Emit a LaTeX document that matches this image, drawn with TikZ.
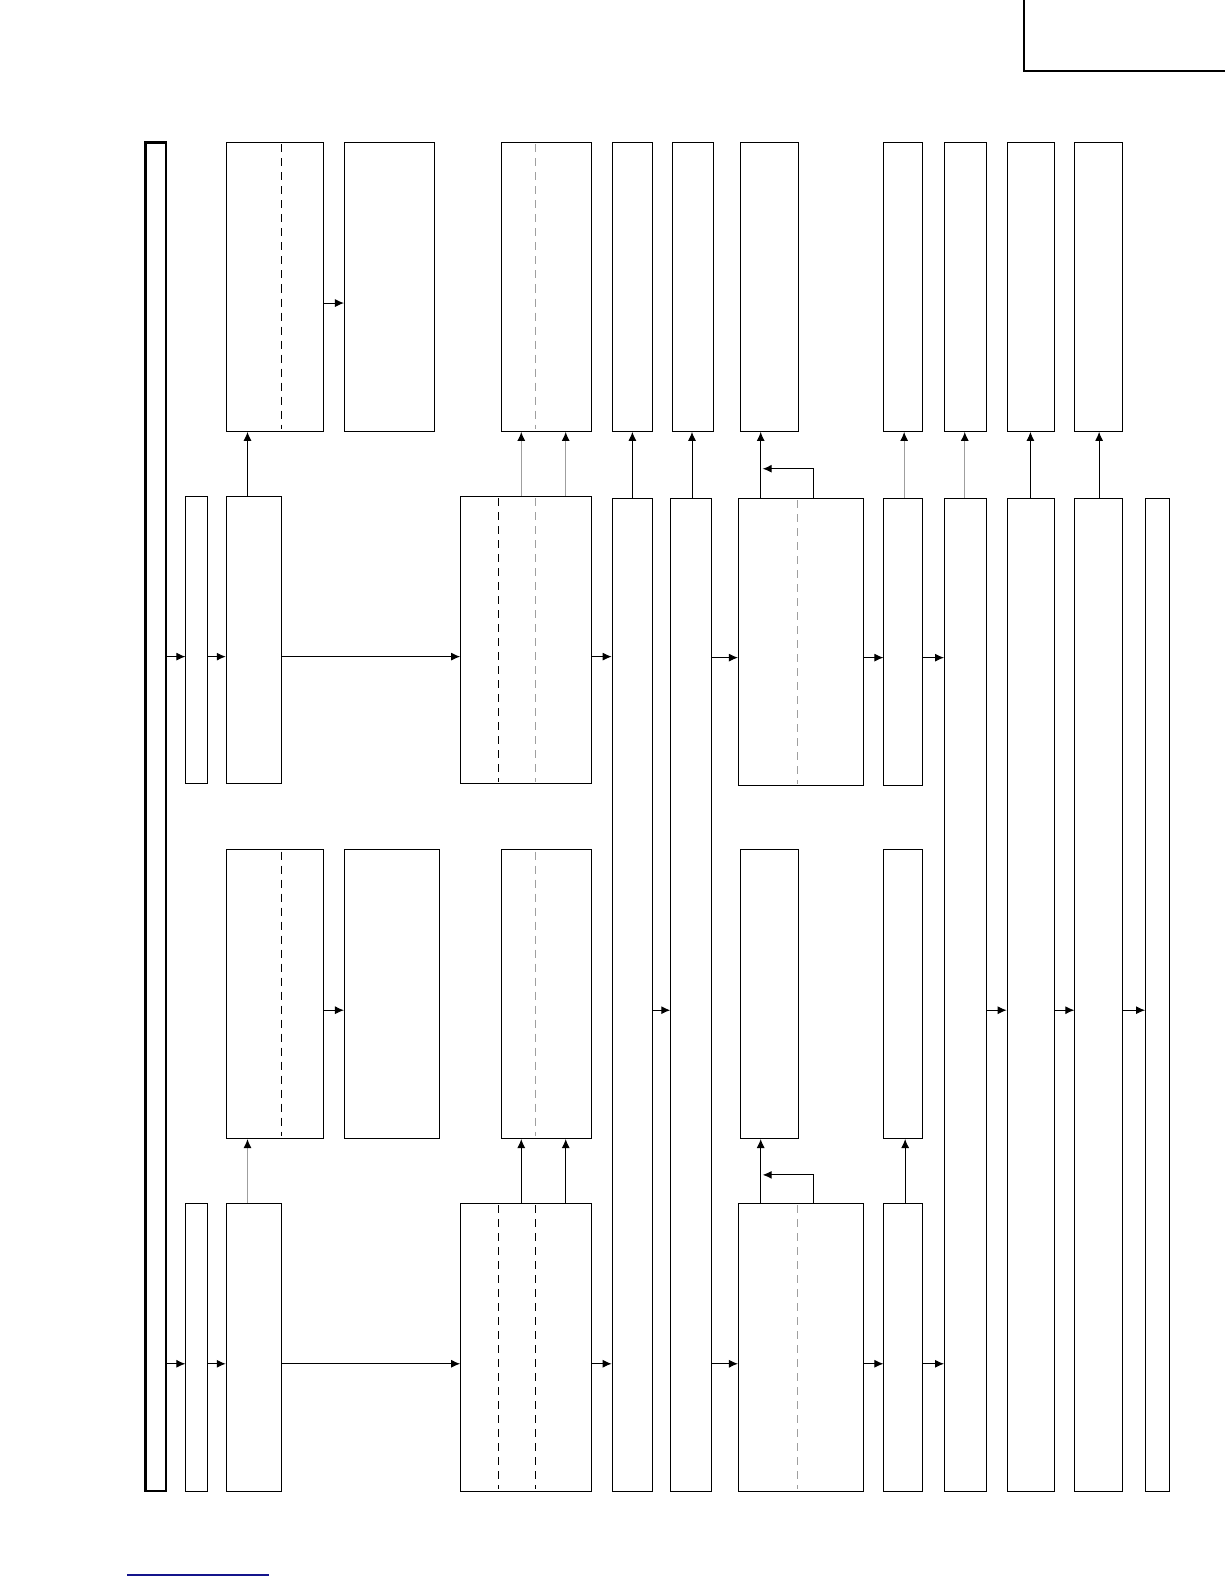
\documentclass[tikz,border=0pt]{standalone}
\usetikzlibrary{fit,arrows.meta}
\definecolor{navyline}{RGB}{20,20,140}
\begin{document}
\begin{tikzpicture}[x=0.50495pt,y=-0.50495pt,
  box/.style={draw=black,line width=0.5pt,inner sep=0pt,rectangle},
  thickbox/.style={draw=black,line width=1.1pt,inner sep=0pt,rectangle},
  arr/.style={-{Latex[length=4.5pt,width=4pt]},line width=0.5pt},
  garr/.style={-{Latex[length=4.5pt,width=4pt,color=black]},line width=0.6pt,draw=gray!75},
  dashln/.style={line width=0.45pt,dash pattern=on 4pt off 3pt},
  gdashln/.style={dashln,draw=gray!75}]
\useasboundingbox (0,0) rectangle (1212,1568);
% corner frame and blue rule
\draw[line width=1.1pt] (1014,-5) -- (1014,70) -- (1220,70);
\draw[navyline,line width=0.6pt] (126,1559) -- (266,1559);
% left bus
\node[thickbox,fit={(144,141) (164,1476)}] (bus) {};
% upper row
\node[box,fit={(184,491) (205,776)}] (S1) {};
\node[box,fit={(224,491) (279,776)}] (C1) {};
\node[box,fit={(224,141) (320,427)}] (A1) {};
\node[box,fit={(341,141) (430,427)}] (B1) {};
\node[box,fit={(456,491) (586,776)}] (D1) {};
\node[box,fit={(496,141) (586,427)}] (E1) {};
\node[box,fit={(606,141) (646,427)}] (FT) {};
\node[box,fit={(666,141) (706,427)}] (GT) {};
\node[box,fit={(731,493) (855,778)}] (H1) {};
\node[box,fit={(733,141) (790,427)}] (HT1) {};
\node[box,fit={(875,493) (913,778)}] (I1) {};
\node[box,fit={(875,141) (913,427)}] (IT1) {};
\node[box,fit={(935,141) (977,427)}] (JT) {};
\node[box,fit={(997,141) (1044,427)}] (KT) {};
\node[box,fit={(1064,141) (1111,427)}] (LT) {};
% lower row
\node[box,fit={(184,1191) (205,1476)}] (S2) {};
\node[box,fit={(224,1191) (279,1476)}] (C2) {};
\node[box,fit={(224,841) (320,1127)}] (A2) {};
\node[box,fit={(341,841) (435,1127)}] (B2) {};
\node[box,fit={(456,1191) (586,1476)}] (D2) {};
\node[box,fit={(496,841) (586,1127)}] (E2) {};
\node[box,fit={(731,1191) (855,1476)}] (H2) {};
\node[box,fit={(733,841) (790,1127)}] (HT2) {};
\node[box,fit={(875,1191) (913,1476)}] (I2) {};
\node[box,fit={(875,841) (913,1127)}] (IT2) {};
% tall columns
\node[box,fit={(606,493) (646,1476)}] (F) {};
\node[box,fit={(664,493) (704,1476)}] (G) {};
\node[box,fit={(935,493) (977,1476)}] (J) {};
\node[box,fit={(997,493) (1044,1476)}] (K) {};
\node[box,fit={(1064,493) (1111,1476)}] (L) {};
\node[box,fit={(1134,493) (1158,1476)}] (M) {};
% dashed dividers
\draw[dashln] (279,143) -- (279,425);
\draw[dashln] (279,843) -- (279,1125);
\draw[gdashln] (530,143) -- (530,425);
\draw[gdashln] (530,843) -- (530,1125);
\draw[dashln] (493,493) -- (493,774);
\draw[gdashln] (530,493) -- (530,774);
\draw[dashln] (493,1193) -- (493,1474);
\draw[dashln] (530,1193) -- (530,1474);
\draw[gdashln] (789,495) -- (789,776);
\draw[gdashln] (789,1193) -- (789,1474);
% horizontal arrows upper
\draw[arr] (bus.east |- 0,650) -- (S1.west |- 0,650);
\draw[arr] (S1.east |- 0,650) -- (C1.west |- 0,650);
\draw[arr] (C1.east |- 0,650) -- (D1.west |- 0,650);
\draw[arr] (D1.east |- 0,650) -- (F.west |- 0,650);
\draw[arr] (G.east |- 0,651) -- (H1.west |- 0,651);
\draw[arr] (H1.east |- 0,651) -- (I1.west |- 0,651);
\draw[arr] (I1.east |- 0,651) -- (J.west |- 0,651);
\draw[arr] (A1.east |- 0,300) -- (B1.west |- 0,300);
% horizontal arrows lower
\draw[arr] (bus.east |- 0,1350) -- (S2.west |- 0,1350);
\draw[arr] (S2.east |- 0,1350) -- (C2.west |- 0,1350);
\draw[arr] (C2.east |- 0,1350) -- (D2.west |- 0,1350);
\draw[arr] (D2.east |- 0,1350) -- (F.west |- 0,1350);
\draw[arr] (G.east |- 0,1350) -- (H2.west |- 0,1350);
\draw[arr] (H2.east |- 0,1350) -- (I2.west |- 0,1350);
\draw[arr] (I2.east |- 0,1350) -- (J.west |- 0,1350);
\draw[arr] (A2.east |- 0,1000) -- (B2.west |- 0,1000);
% middle arrows
\draw[arr] (F.east |- 0,1000) -- (G.west |- 0,1000);
\draw[arr] (J.east |- 0,1000) -- (K.west |- 0,1000);
\draw[arr] (K.east |- 0,1000) -- (L.west |- 0,1000);
\draw[arr] (L.east |- 0,1000) -- (M.west |- 0,1000);
% vertical arrows upper
\draw[arr] (C1.north -| 245,0) -- (A1.south -| 245,0);
\draw[garr] (D1.north -| 516,0) -- (E1.south -| 516,0);
\draw[garr] (D1.north -| 560,0) -- (E1.south -| 560,0);
\draw[arr] (F.north -| 626,0) -- (FT.south -| 626,0);
\draw[arr] (G.north -| 685,0) -- (GT.south -| 685,0);
\draw[arr] (H1.north -| 753,0) -- (HT1.south -| 753,0);
\coordinate (fb1) at (755,464);
\draw[arr] (H1.north -| 805,0) |- (fb1);
\draw[garr] (I1.north -| 895,0) -- (IT1.south -| 895,0);
\draw[garr] (J.north -| 955,0) -- (JT.south -| 955,0);
\draw[arr] (K.north -| 1020,0) -- (KT.south -| 1020,0);
\draw[arr] (L.north -| 1088,0) -- (LT.south -| 1088,0);
% vertical arrows lower
\draw[garr] (C2.north -| 245,0) -- (A2.south -| 245,0);
\draw[arr] (D2.north -| 516,0) -- (E2.south -| 516,0);
\draw[arr] (D2.north -| 560,0) -- (E2.south -| 560,0);
\draw[arr] (H2.north -| 753,0) -- (HT2.south -| 753,0);
\coordinate (fb2) at (755,1163);
\draw[arr] (H2.north -| 805,0) |- (fb2);
\draw[arr] (I2.north -| 896,0) -- (IT2.south -| 896,0);
\end{tikzpicture}
\end{document}
